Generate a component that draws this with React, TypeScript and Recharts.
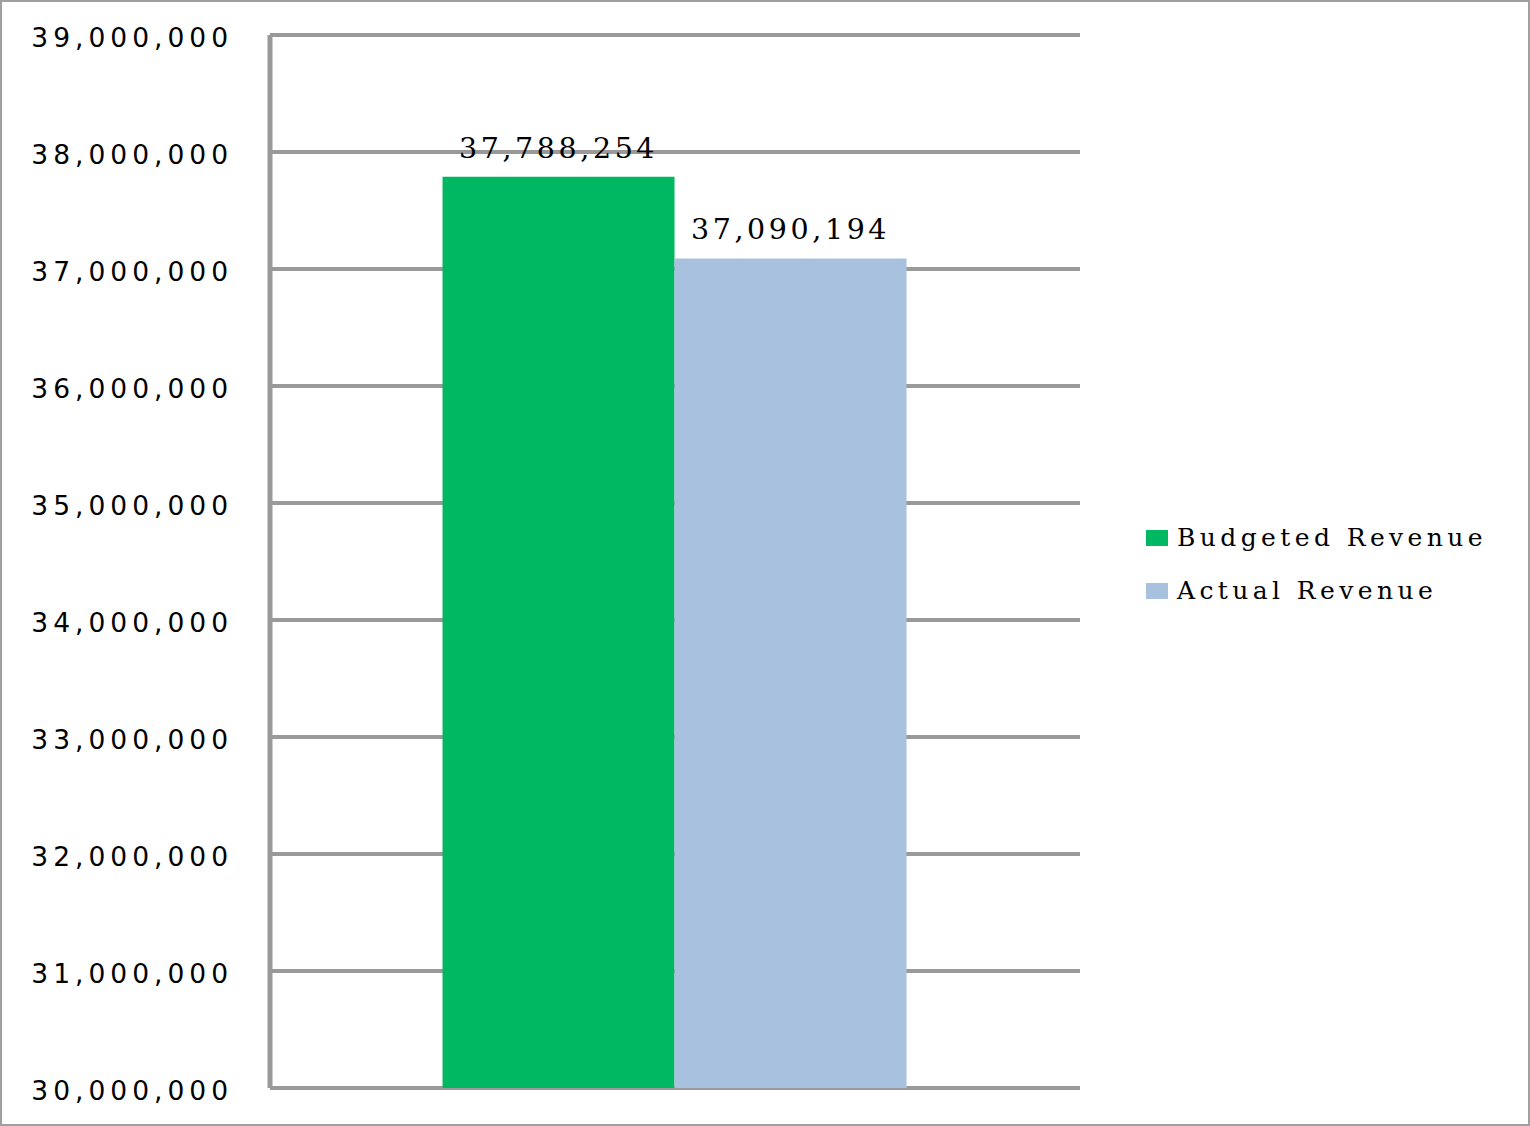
import { BarChart, Bar, XAxis, YAxis, CartesianGrid, LabelList } from "recharts";

const categories = ["Revenue"];
const budgetedRevenue = [37788254];
const actualRevenue = [37090194];
const yTicks = [30000000, 31000000, 32000000, 33000000, 34000000, 35000000, 36000000, 37000000, 38000000, 39000000];

const SERIES = [
  { key: "budgeted", name: "Budgeted Revenue", color: "#00B862" },
  { key: "actual", name: "Actual Revenue", color: "#A7C1DF" },
];

const data = categories.map((c, i) => ({
  name: c,
  budgeted: budgetedRevenue[i],
  actual: actualRevenue[i],
}));

const fmt = (v: number) => v.toLocaleString("en-US");

const YTick = (props: any) => {
  const { x, y, payload } = props;
  return (
    <text
      x={x - 29}
      y={y + 12}
      textAnchor="end"
      fontFamily="DejaVu Sans"
      fontSize={26.5}
      letterSpacing={5}
      fill="#000"
    >
      {fmt(payload.value)}
    </text>
  );
};

export default function App() {
  return (
    <div style={{ position: "relative", width: 1530, height: 1126, background: "#fff" }}>
      <style>{`body{margin:0}`}</style>
      <BarChart
        width={1530}
        height={1126}
        data={data}
        margin={{ top: 35, right: 450, bottom: 38, left: 0 }}
        barCategoryGap="21.3%"
        barGap={0}
      >
        <CartesianGrid vertical={false} stroke="#999" strokeWidth={4} />
        <XAxis dataKey="name" hide />
        <YAxis
          width={270}
          domain={[30000000, 39000000]}
          ticks={yTicks}
          allowDataOverflow
          interval={0}
          axisLine={{ stroke: "#999", strokeWidth: 5 }}
          tickLine={false}
          tick={<YTick />}
        />
        {SERIES.map((s) => (
          <Bar key={s.key} dataKey={s.key} name={s.name} fill={s.color} isAnimationActive={false}>
            <LabelList
              dataKey={s.key}
              position="top"
              offset={19}
              formatter={(v: any) => fmt(Number(v))}
              style={{ fontFamily: "DejaVu Serif", fontSize: 28.5, letterSpacing: 3.6, fill: "#000" }}
            />
          </Bar>
        ))}
      </BarChart>
      {SERIES.map((s, i) => (
        <div
          key={s.key}
          style={{
            position: "absolute",
            left: 1146,
            top: 525 + i * 53,
            display: "flex",
            alignItems: "center",
            fontFamily: "DejaVu Serif",
            fontSize: 25,
            lineHeight: "25px",
            letterSpacing: 4.4,
            whiteSpace: "nowrap",
          }}
        >
          <span style={{ display: "inline-block", width: 22, height: 16, background: s.color, marginRight: 9 }} />
          <span>{s.name}</span>
        </div>
      ))}
      <div
        style={{
          position: "absolute",
          left: 0,
          top: 0,
          width: 1530,
          height: 1126,
          boxSizing: "border-box",
          border: "2px solid #a0a0a0",
          pointerEvents: "none",
        }}
      />
    </div>
  );
}
